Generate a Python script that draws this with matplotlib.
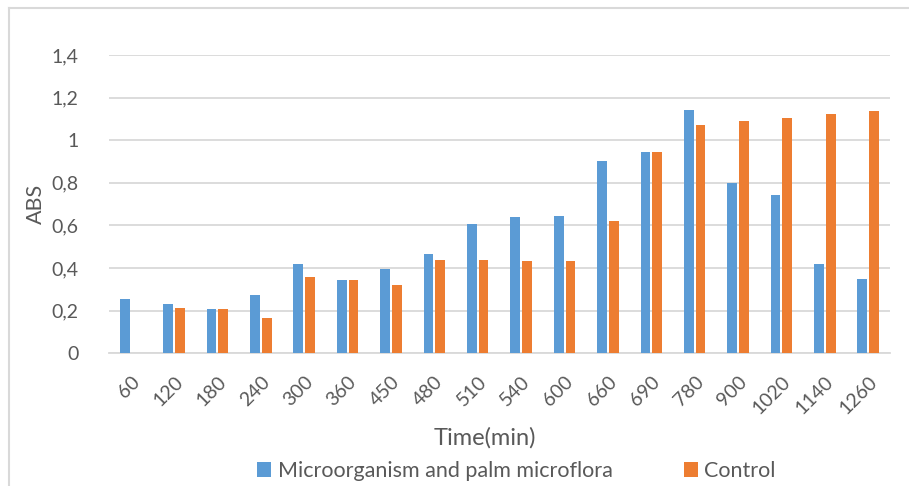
import numpy as np
import matplotlib
matplotlib.use("Agg")
import matplotlib.pyplot as plt
from matplotlib.lines import Line2D
from matplotlib.ticker import FuncFormatter

plt.rcParams['font.family'] = ['Lato', 'DejaVu Sans']

times = ["60", "120", "180", "240", "300", "360", "450", "480", "510", "540",
         "600", "660", "690", "780", "900", "1020", "1140", "1260"]
micro = [0.255, 0.233, 0.206, 0.275, 0.419, 0.345, 0.395, 0.466, 0.609, 0.642,
         0.644, 0.902, 0.944, 1.142, 0.798, 0.745, 0.419, 0.350]
control = [0, 0.212, 0.209, 0.167, 0.359, 0.345, 0.319, 0.440, 0.436, 0.434,
           0.434, 0.622, 0.944, 1.070, 1.092, 1.103, 1.122, 1.136]

blue = "#5B9BD5"
orange = "#ED7D31"
txt = "#595959"
grid = "#D9D9D9"

fig = plt.figure(figsize=(9.09, 4.86), dpi=100)
ax = fig.add_axes([0.1199, 0.273, 0.979 - 0.1199, 0.8868 - 0.273])

x = np.arange(len(times))
w = 0.225
ax.bar(x - 0.135, micro, w, color=blue, label="Microorganism and palm microflora", zorder=3)
ax.bar(x + 0.135, control, w, color=orange, label="Control", zorder=3)

ax.set_xlim(-0.5, len(times) - 0.5)
ax.set_ylim(0, 1.4)
ax.set_yticks(np.arange(0, 1.41, 0.2))
ax.yaxis.set_major_formatter(FuncFormatter(
    lambda v, p: "0" if abs(v) < 1e-9 else ("%g" % round(v, 1)).replace(".", ",")))
ax.grid(axis="y", color=grid, linewidth=1.3, zorder=0)
ax.set_axisbelow(True)
for s in ["top", "right", "left"]:
    ax.spines[s].set_visible(False)
ax.spines["bottom"].set_color(grid)
ax.spines["bottom"].set_linewidth(1.3)

ax.set_xticks(x)
ax.set_xticklabels(times, rotation=45, ha="right", va="top", rotation_mode="anchor")
ax.tick_params(axis="both", length=0, colors=txt, labelsize=14)
ax.tick_params(axis="x", pad=14)
ax.tick_params(axis="y", pad=22)

ax.set_ylabel("ABS", fontsize=15.5, color=txt, labelpad=4)
fig.text(0.5336, 0.0988, "Time(min)", ha="center", va="center", fontsize=17, color=txt)

fig.legend(loc="center", bbox_to_anchor=(0.568, 0.031), ncol=2, frameon=False,
           fontsize=15.5, labelcolor=txt, handlelength=0.65, handleheight=0.65,
           handletextpad=0.3, columnspacing=3.3, borderpad=0, borderaxespad=0)

# chart frame (top and left edges visible)
fig.add_artist(Line2D([9 / 909, 1], [1 - 8 / 486, 1 - 8 / 486], color=grid, lw=1.5,
                      transform=fig.transFigure))
fig.add_artist(Line2D([9 / 909, 9 / 909], [0, 1 - 8 / 486], color=grid, lw=1.5,
                      transform=fig.transFigure))

fig.savefig("out.png", dpi=100)
